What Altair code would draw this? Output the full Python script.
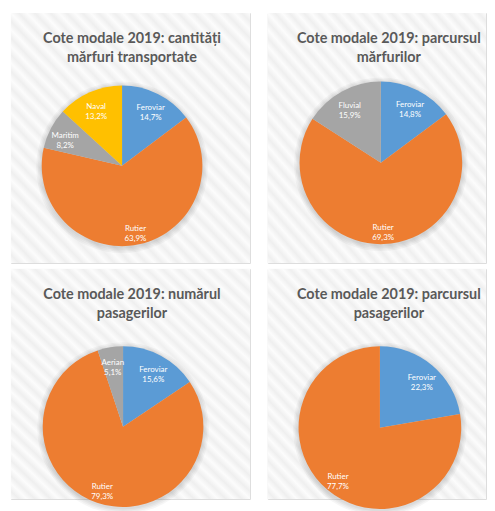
import altair as alt
import pandas as pd

# ---- data ----
cats1 = ["Feroviar", "Rutier", "Maritim", "Naval"]
vals1 = [14.7, 63.9, 8.2, 13.2]
cats2 = ["Feroviar", "Rutier", "Fluvial"]
vals2 = [14.8, 69.3, 15.9]
cats3 = ["Feroviar", "Rutier", "Aerian"]
vals3 = [15.6, 79.3, 5.1]
cats4 = ["Feroviar", "Rutier"]
vals4 = [22.3, 77.7]

titles = [
    ["Cote modale 2019: cantități", "mărfuri transportate"],
    ["Cote modale 2019: parcursul", "mărfurilor"],
    ["Cote modale 2019: numărul", "pasagerilor"],
    ["Cote modale 2019: parcursul", "pasagerilor"],
]

color_domain = ["Feroviar", "Rutier", "Maritim", "Fluvial", "Aerian", "Naval"]
color_range = ["#5B9BD5", "#ED7D31", "#A5A5A5", "#A5A5A5", "#A5A5A5", "#FFC000"]

# striped background gradient
n_stripes = 30
light, dark = "#fcfcfc", "#efefef"
stops = []
for i in range(n_stripes):
    stops.append(alt.GradientStop(color=light, offset=i / n_stripes))
    stops.append(alt.GradientStop(color=dark, offset=(i + 0.5) / n_stripes))
stops.append(alt.GradientStop(color=light, offset=1))
grad = alt.Gradient(gradient="linear", stops=stops, x1=0, y1=1, x2=1, y2=0)


def panel(cats, vals, title, w, h, cx, cy, r):
    df = pd.DataFrame({
        "cat": cats,
        "v": vals,
        "ord": list(range(len(cats))),
        "lab": [c + "\n" + f"{v:.1f}".replace(".", ",") + "%" for c, v in zip(cats, vals)],
    })
    one = pd.DataFrame({"k": [0]})
    bg = alt.Chart(one).mark_rect(fill=grad).encode(
        x=alt.value(0), x2=alt.value(w), y=alt.value(0), y2=alt.value(h)
    )
    shadows = [
        alt.Chart(one).mark_arc(theta=0, theta2=6.2832, radius=r + k, color="black", opacity=0.035).encode(
            x=alt.value(cx), y=alt.value(cy + 1.5)
        )
        for k in (1, 2.5, 4, 5.5)
    ]
    pie = alt.Chart(df).mark_arc(radius=r).encode(
        theta=alt.Theta("v:Q", stack=True),
        order=alt.Order("ord:Q"),
        color=alt.Color("cat:N", scale=alt.Scale(domain=color_domain, range=color_range), legend=None),
        x=alt.value(cx), y=alt.value(cy),
    )
    labels = alt.Chart(df).mark_text(
        radius=r * 0.8, fontSize=8, color="white", font="Lato", lineBreak="\n",
        lineHeight=10, baseline="middle", align="center"
    ).encode(
        theta=alt.Theta("v:Q", stack=True),
        order=alt.Order("ord:Q"),
        text="lab:N",
        x=alt.value(cx), y=alt.value(cy),
    )
    ttl = alt.Chart(one).mark_text(
        text=title, font="Lato", fontWeight="bold", fontSize=14.5, color="#595959",
        lineHeight=19, baseline="middle", align="center"
    ).encode(x=alt.value(122), y=alt.value(26.5))
    return alt.layer(bg, *shadows, pie, labels, ttl).properties(width=w, height=h)


p1 = panel(cats1, vals1, titles[0], 241, 252, 112, 154, 81)
p2 = panel(cats2, vals2, titles[1], 220, 252, 114, 151, 82)
p3 = panel(cats3, vals3, titles[2], 241, 232, 113, 159, 81)
p4 = panel(cats4, vals4, titles[3], 220, 232, 113, 160, 82)

chart = alt.vconcat(
    alt.hconcat(p1, p2, spacing=16),
    alt.hconcat(p3, p4, spacing=16),
    spacing=4,
).properties(
    padding={"left": 2, "top": 2, "right": 0, "bottom": 0}
).configure_view(
    stroke="#d9d9d9", strokeWidth=1
).configure(background="white")

chart.save("out.html", embed_options={"renderer": "svg", "actions": False})
